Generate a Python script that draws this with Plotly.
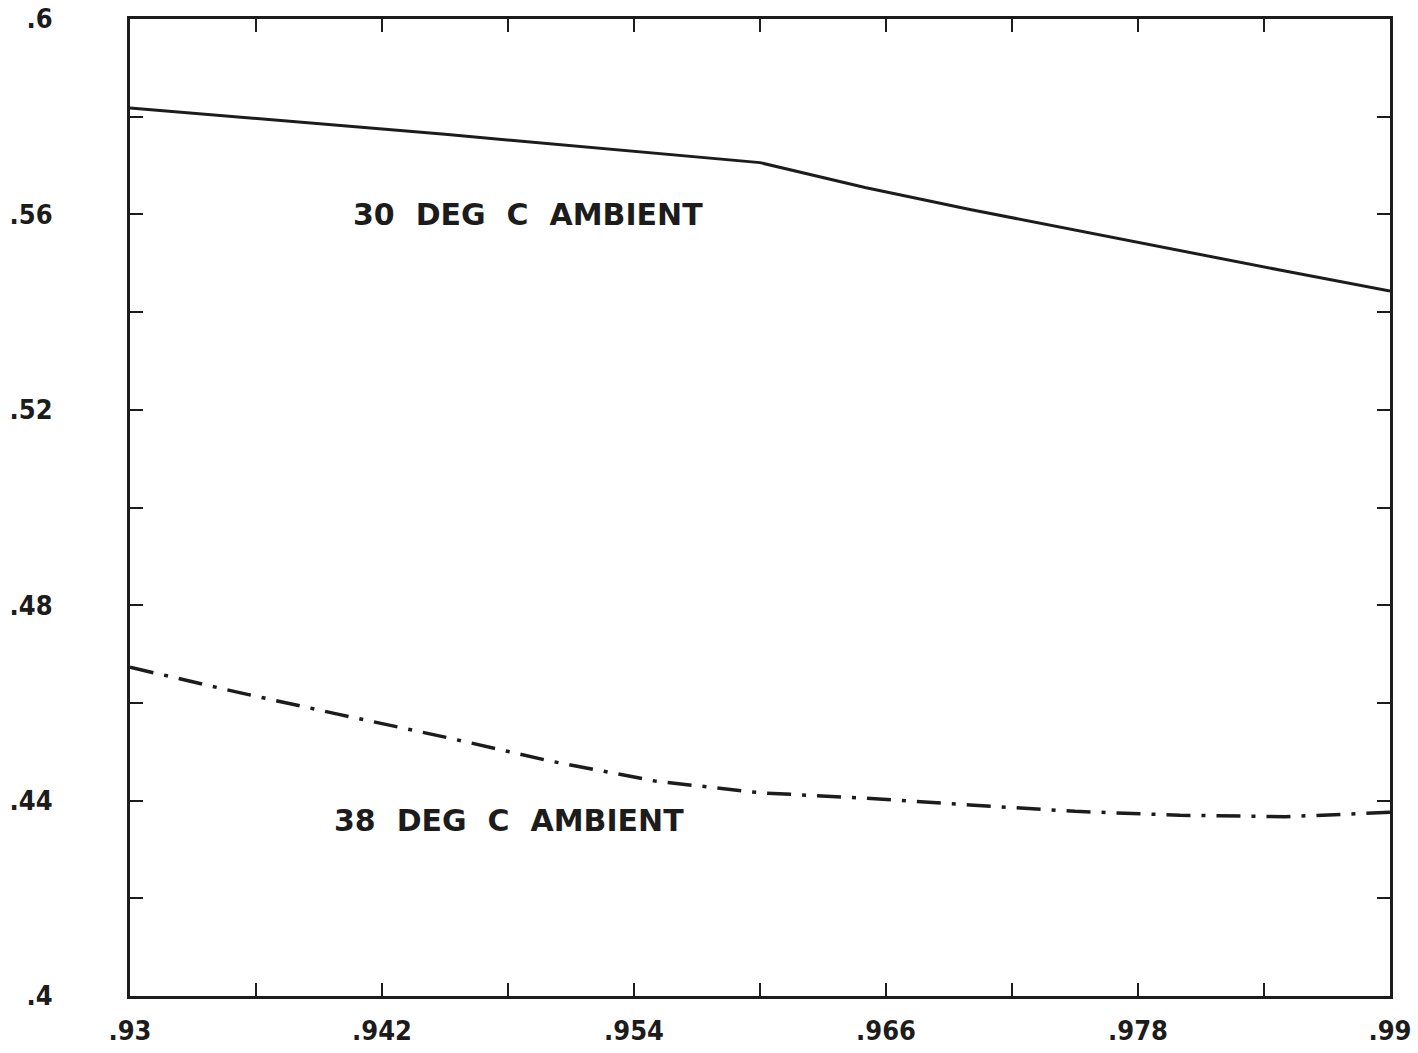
import plotly.graph_objects as go

# ---- data ----
x_30 = [0.93, 0.945, 0.96, 0.965, 0.97, 0.975, 0.98, 0.985, 0.99]
y_30 = [0.5818, 0.5764, 0.5706, 0.5655, 0.5610, 0.5568, 0.5525, 0.5484, 0.5443]

x_38 = [0.93, 0.935, 0.94, 0.945, 0.95, 0.955, 0.96, 0.965, 0.97, 0.975, 0.98, 0.985, 0.99]
y_38 = [0.4673, 0.4623, 0.4576, 0.4530, 0.4481, 0.4440, 0.4416, 0.4405, 0.4391, 0.4378, 0.4370, 0.4367, 0.4376]

x_tick_vals = [0.93, 0.936, 0.942, 0.948, 0.954, 0.96, 0.966, 0.972, 0.978, 0.984, 0.99]
x_tick_text = [".93", "", ".942", "", ".954", "", ".966", "", ".978", "", ".99"]
y_tick_vals = [0.40, 0.42, 0.44, 0.46, 0.48, 0.50, 0.52, 0.54, 0.56, 0.58, 0.60]
y_tick_text = [".4", "", ".44", "", ".48", "", ".52", "", ".56", "", ".6"]

label_30 = "30\u00a0 DEG\u00a0 C\u00a0 AMBIENT"
label_38 = "38\u00a0 DEG\u00a0 C\u00a0 AMBIENT"
label_30_pos = (0.9405, 0.5600)
label_38_pos = (0.9396, 0.4359)

ink = "#1c1c1c"
tick_font = dict(family="DejaVu Sans Condensed, Liberation Sans Narrow, sans-serif",
                 size=27, color=ink, weight="bold")

fig = go.Figure()
fig.add_trace(go.Scatter(x=x_30, y=y_30, mode="lines",
                         line=dict(color=ink, width=3), showlegend=False))
fig.add_trace(go.Scatter(x=x_38, y=y_38, mode="lines",
                         line=dict(color=ink, width=3.5, dash="24px,11px,4px,11px"),
                         showlegend=False))

for txt, (ax, ay) in [(label_30, label_30_pos), (label_38, label_38_pos)]:
    fig.add_annotation(x=ax, y=ay, text=txt, showarrow=False, xanchor="left", yanchor="middle",
                       font=dict(family="DejaVu Sans, sans-serif", size=30, color=ink, weight="bold"))

fig.update_xaxes(range=[0.93, 0.99], tickmode="array", tickvals=x_tick_vals, ticktext=x_tick_text,
                 ticks="inside", ticklen=13, tickwidth=2, tickcolor=ink,
                 showline=True, linewidth=3, linecolor=ink, mirror="ticks", automargin=False,
                 showgrid=False, zeroline=False, tickfont=tick_font, ticklabelstandoff=9)
fig.update_yaxes(range=[0.40, 0.60], tickmode="array", tickvals=y_tick_vals, ticktext=y_tick_text,
                 ticks="inside", ticklen=13, tickwidth=2, tickcolor=ink,
                 showline=True, linewidth=3, linecolor=ink, mirror="ticks", automargin=False,
                 showgrid=False, zeroline=False, tickfont=tick_font, ticklabelstandoff=69)

fig.update_layout(width=1418, height=1053, margin=dict(l=130, r=28, t=19, b=57),
                  plot_bgcolor="white", paper_bgcolor="white", showlegend=False)

fig.write_html("out.html")
